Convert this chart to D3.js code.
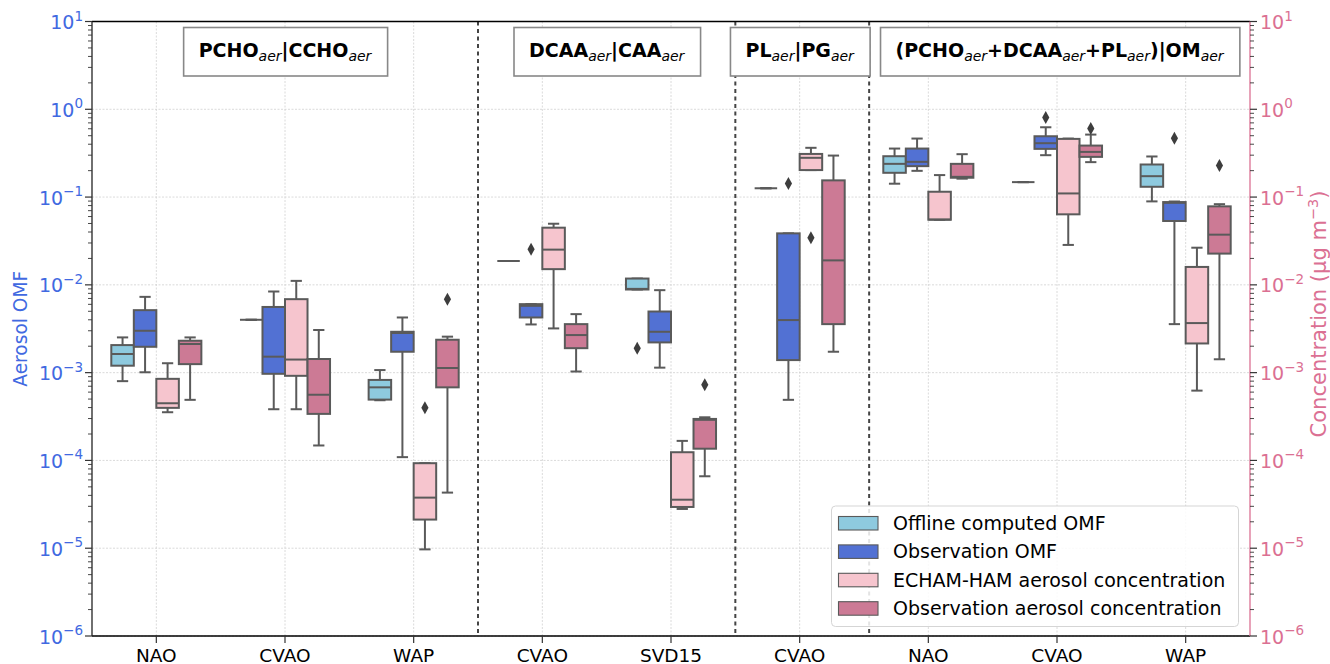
<!DOCTYPE html>
<html><head><meta charset="utf-8">
<script src="https://cdn.jsdelivr.net/npm/d3@7"></script>
<style>body{margin:0;background:#fff} text{font-family:"DejaVu Sans",sans-serif}</style>
</head><body><svg id="c" width="1330" height="664"></svg>
<script>
// ---------------- DATA ----------------
const categories = ["NAO","CVAO","WAP","CVAO","SVD15","CVAO","NAO","CVAO","WAP"];
const separators = [2.5, 4.5, 5.54];
const panelTitles = [
  {x:1,   parts:[["PCHO",0],["aer",1],["|CCHO",0],["aer",1]]},
  {x:3.5, parts:[["DCAA",0],["aer",1],["|CAA",0],["aer",1]]},
  {x:5.0, parts:[["PL",0],["aer",1],["|PG",0],["aer",1]]},
  {x:7.02,parts:[["(PCHO",0],["aer",1],["+DCAA",0],["aer",1],["+PL",0],["aer",1],[")|OM",0],["aer",1]]}
];
const seriesNames = ["Offline computed OMF","Observation OMF","ECHAM-HAM aerosol concentration","Observation aerosol concentration"];
const yTickExponents = [1,0,-1,-2,-3,-4,-5,-6];
// box stats per category: [lower whisker, q1, median, q3, upper whisker]
const offlineOMF = [
  [8.0e-4,1.2e-3,1.63e-3,2.06e-3,2.52e-3],
  [4.0e-3,4.0e-3,4.0e-3,4.0e-3,4.0e-3],
  [4.85e-4,4.93e-4,6.8e-4,8.26e-4,1.07e-3],
  [1.87e-2,1.87e-2,1.87e-2,1.87e-2,1.87e-2],
  [8.85e-3,8.85e-3,9.0e-3,1.18e-2,1.18e-2],
  [0.126,0.126,0.126,0.126,0.126],
  [0.142,0.189,0.239,0.292,0.357],
  [0.148,0.148,0.148,0.148,0.148],
  [0.0893,0.131,0.173,0.235,0.29]
];
const offlineOMFOutliers = [[],[],[],[],[1.9e-3],[],[],[],[]];
const obsOMF = [
  [1.01e-3,1.97e-3,3.0e-3,5.15e-3,7.3e-3],
  [3.83e-4,9.7e-4,1.52e-3,5.6e-3,8.4e-3],
  [1.09e-4,1.73e-3,2.83e-3,2.92e-3,4.25e-3],
  [3.54e-3,4.25e-3,5.77e-3,6.03e-3,6.03e-3],
  [1.14e-3,2.21e-3,2.92e-3,4.97e-3,8.7e-3],
  [4.9e-4,1.39e-3,3.97e-3,3.86e-2,3.86e-2],
  [0.199,0.225,0.252,0.357,0.464],
  [0.30,0.354,0.411,0.493,0.624],
  [3.57e-3,5.34e-2,8.6e-2,8.77e-2,8.9e-2]
];
const obsOMFOutliers = [[],[],[],[2.54e-2],[],[0.143],[],[0.804],[0.468]];
const echamConc = [
  [3.54e-4,3.97e-4,4.48e-4,8.5e-4,1.28e-3],
  [3.83e-4,9.2e-4,1.41e-3,6.87e-3,1.11e-2],
  [9.7e-6,2.12e-5,3.77e-5,9.3e-5,9.3e-5],
  [3.19e-3,1.51e-2,2.52e-2,4.48e-2,4.97e-2],
  [2.8e-5,2.95e-5,3.57e-5,1.24e-4,1.67e-4],
  [0.203,0.203,0.28,0.31,0.364],
  [5.52e-2,5.52e-2,5.55e-2,0.115,0.178],
  [2.85e-2,6.36e-2,0.110,0.46,0.464],
  [6.24e-4,2.15e-3,3.67e-3,1.6e-2,2.65e-2]
];
const echamConcOutliers = [[],[],[3.97e-4],[],[],[3.45e-2],[],[],[]];
const obsConc = [
  [4.9e-4,1.25e-3,2.12e-3,2.31e-3,2.52e-3],
  [1.48e-4,3.39e-4,5.6e-4,1.43e-3,3.06e-3],
  [4.3e-5,6.8e-4,1.13e-3,2.37e-3,2.57e-3],
  [1.03e-3,1.9e-3,2.68e-3,3.57e-3,4.64e-3],
  [6.6e-5,1.36e-4,2.9e-4,2.97e-4,3.1e-4],
  [1.73e-3,3.57e-3,1.9e-2,0.155,0.297],
  [0.162,0.166,0.17,0.239,0.308],
  [0.25,0.287,0.327,0.386,0.515],
  [1.42e-3,2.27e-2,3.73e-2,7.84e-2,8.3e-2]
];
const obsConcOutliers = [[],[],[6.87e-3],[],[7.3e-4],[],[],[0.603],[0.229]];

// ---------------- STYLE ----------------
const seriesColors = ["#8ecadf","#5271d3","#f6c5ce","#cc7a95"];
const edge = "#5a5a5a";
const leftColor = "#4169e1", rightColor = "#db7093";
const series = [
  {stats:offlineOMF, out:offlineOMFOutliers},
  {stats:obsOMF, out:obsOMFOutliers},
  {stats:echamConc, out:echamConcOutliers},
  {stats:obsConc, out:obsConcOutliers}
];

const svg = d3.select("#c");
const L=92, R=1250, T=21.5, B=636;
const x = d3.scaleLinear().domain([-0.5, categories.length-0.5]).range([L,R]);
const y = d3.scaleLog().domain([1e-6,10]).range([B,T]);
const nH = 4, totalW = 0.7, slot = totalW/nH;
const bw = x(slot)-x(0);

// grid
const g = svg.append("g");
const majors = yTickExponents.map(e=>Math.pow(10,e));
g.selectAll(".hg").data(majors).join("line")
  .attr("x1",L).attr("x2",R).attr("y1",d=>y(d)).attr("y2",d=>y(d))
  .attr("stroke","#d0d0d0").attr("stroke-width",0.8).attr("stroke-dasharray","2,1.5");
g.selectAll(".vg").data(categories.map((c,i)=>i)).join("line")
  .attr("x1",d=>x(d)).attr("x2",d=>x(d)).attr("y1",T).attr("y2",B)
  .attr("stroke","#d0d0d0").attr("stroke-width",0.8).attr("stroke-dasharray","2,1.5");

// separators
g.selectAll(".sep").data(separators).join("line")
  .attr("x1",d=>x(d)).attr("x2",d=>x(d)).attr("y1",T).attr("y2",B)
  .attr("stroke","#444").attr("stroke-width",2).attr("stroke-dasharray","4,3.5");

// boxes
series.forEach((s,si)=>{
  const off = -totalW/2 + slot*(si+0.5);
  const sg = svg.append("g");
  s.stats.forEach((st,ci)=>{
    if(!st) return;
    const cx = x(ci+off);
    const [lo,q1,med,q3,hi] = st;
    const lw = 2;
    sg.append("line").attr("x1",cx).attr("x2",cx).attr("y1",y(q3)).attr("y2",y(hi)).attr("stroke",edge).attr("stroke-width",lw);
    sg.append("line").attr("x1",cx).attr("x2",cx).attr("y1",y(q1)).attr("y2",y(lo)).attr("stroke",edge).attr("stroke-width",lw);
    [lo,hi].forEach(v=>sg.append("line").attr("x1",cx-bw/4).attr("x2",cx+bw/4).attr("y1",y(v)).attr("y2",y(v)).attr("stroke",edge).attr("stroke-width",lw));
    sg.append("rect").attr("x",cx-bw/2).attr("width",bw)
      .attr("y",y(q3)).attr("height",Math.max(0,y(q1)-y(q3)))
      .attr("fill",seriesColors[si]).attr("stroke",edge).attr("stroke-width",lw);
    sg.append("line").attr("x1",cx-bw/2).attr("x2",cx+bw/2).attr("y1",y(med)).attr("y2",y(med)).attr("stroke",edge).attr("stroke-width",lw);
    s.out[ci].forEach(v=>{
      sg.append("path").attr("transform",`translate(${cx},${y(v)})`)
        .attr("d","M0,-6.5L3.6,0L0,6.5L-3.6,0Z").attr("fill","#3d3d3d");
    });
  });
});

// frame
svg.append("line").attr("x1",L).attr("x2",R).attr("y1",T).attr("y2",T).attr("stroke","#000").attr("stroke-width",1.3);
svg.append("line").attr("x1",L).attr("x2",R).attr("y1",B).attr("y2",B).attr("stroke","#000").attr("stroke-width",1.3);
svg.append("line").attr("x1",L).attr("x2",L).attr("y1",T).attr("y2",B).attr("stroke","#222").attr("stroke-width",1.3);
svg.append("line").attr("x1",R).attr("x2",R).attr("y1",T).attr("y2",B).attr("stroke",rightColor).attr("stroke-width",1.3);

// y ticks (major + minor)
const minors = [];
for(let e=-6;e<1;e++) for(let m=2;m<10;m++) minors.push(m*Math.pow(10,e));
[[L,-1],[R,1]].forEach(([xx,dir])=>{
  svg.selectAll(null).data(majors).join("line")
    .attr("x1",xx).attr("x2",xx+dir*7).attr("y1",d=>y(d)).attr("y2",d=>y(d)).attr("stroke","#333").attr("stroke-width",1.2);
  svg.selectAll(null).data(minors).join("line")
    .attr("x1",xx).attr("x2",xx+dir*4).attr("y1",d=>y(d)).attr("y2",d=>y(d)).attr("stroke","#333").attr("stroke-width",0.9);
});
function tickLabel(xx, e, anchor, color){
  const t = svg.append("text").attr("x",xx).attr("y",y(Math.pow(10,e))+7.5)
    .attr("text-anchor",anchor).attr("fill",color).attr("font-size",19);
  t.append("tspan").text("10");
  t.append("tspan").attr("dy",-8.5).attr("font-size",13.5).text(e<0?"\u2212"+(-e):String(e));
}
yTickExponents.forEach(e=>{ tickLabel(L-9,e,"end",leftColor); tickLabel(R+10,e,"start",rightColor); });

// x ticks
svg.selectAll(null).data(categories).join("line")
  .attr("x1",(d,i)=>x(i)).attr("x2",(d,i)=>x(i)).attr("y1",B).attr("y2",B+7).attr("stroke","#333").attr("stroke-width",1.2);
svg.selectAll(null).data(categories).join("text")
  .attr("x",(d,i)=>x(i)).attr("y",661.5).attr("text-anchor","middle").attr("font-size",18.5).attr("fill","#000").text(d=>d);

// axis titles
svg.append("text").attr("transform",`translate(27,${(T+B)/2}) rotate(-90)`).attr("text-anchor","middle")
  .attr("fill",leftColor).attr("font-size",18.6).text("Aerosol OMF");
const rt = svg.append("text").attr("transform",`translate(1326,314) rotate(-90)`).attr("text-anchor","middle")
  .attr("fill",rightColor).attr("font-size",21);
rt.append("tspan").text("Concentration (\u00b5g m");
rt.append("tspan").attr("dy",-8).attr("font-size",14.5).text("\u22123");
rt.append("tspan").attr("dy",8).text(")");

// panel titles
panelTitles.forEach(p=>{
  const tg = svg.append("g");
  const t = tg.append("text").attr("x",x(p.x)).attr("y",57).attr("text-anchor","middle").attr("font-size",19).attr("fill","#000");
  let prevSub=false;
  p.parts.forEach(([s,sub])=>{
    const ts = t.append("tspan").text(s);
    if(sub){ ts.attr("font-style","italic").attr("font-size",14).attr("dy",prevSub?0:4); }
    else { ts.attr("font-weight","bold").attr("dy",prevSub?-4:0); }
    prevSub=!!sub;
  });
  const bb = t.node().getBBox();
  tg.insert("rect","text").attr("x",bb.x-15).attr("width",bb.width+30).attr("y",27.5).attr("height",48.5)
    .attr("fill","#fff").attr("stroke","#888").attr("stroke-width",1.6);
});

// legend
const lg = svg.append("g");
lg.append("rect").attr("x",831.5).attr("y",506).attr("width",407).attr("height",120.5).attr("rx",4)
  .attr("fill","#fff").attr("fill-opacity",0.85).attr("stroke","#d5d5d5").attr("stroke-width",1);
seriesNames.forEach((n,i)=>{
  const yy = 523 + i*28.4;
  lg.append("rect").attr("x",838.5).attr("y",yy-6.5).attr("width",39.5).attr("height",13.5)
    .attr("fill",seriesColors[i]).attr("stroke",edge).attr("stroke-width",1.1);
  lg.append("text").attr("x",893).attr("y",yy+7).attr("font-size",19).attr("fill","#000").text(n);
});
</script></body></html>
